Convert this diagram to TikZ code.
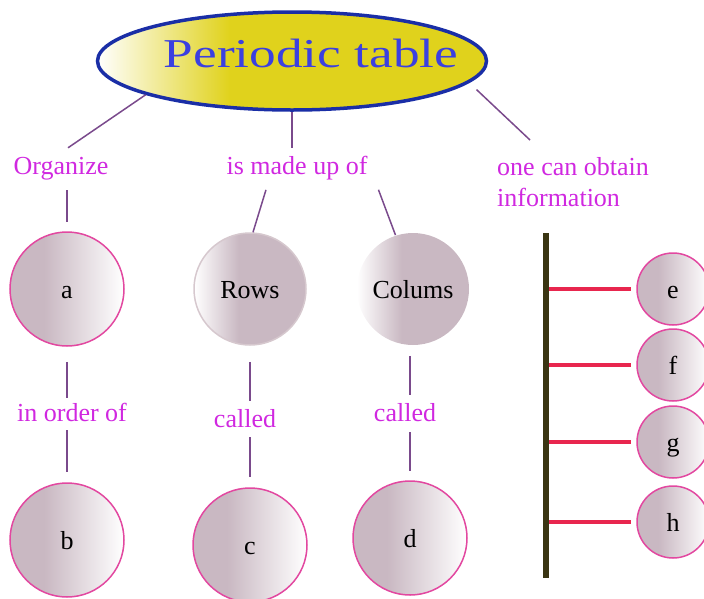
\documentclass[tikz,border=0pt]{standalone}
\usepackage{fontspec}
\setmainfont{Liberation Serif}
\newfontfamily\titlefont[FakeStretch=1.3]{Liberation Serif}
\usetikzlibrary{shapes.geometric}

\definecolor{titleyellow}{RGB}{224,210,28}
\definecolor{titleedge}{RGB}{26,46,166}
\definecolor{titleink}{RGB}{59,64,224}
\definecolor{mauve}{RGB}{201,184,194}
\definecolor{ballpink}{RGB}{226,72,160}
\definecolor{rowsedge}{RGB}{214,200,206}
\definecolor{linkpurple}{RGB}{122,74,140}
\definecolor{textpink}{RGB}{208,40,224}
\definecolor{tickred}{RGB}{232,38,78}
\definecolor{barolive}{RGB}{58,53,18}

\pgfdeclarehorizontalshading{titlefill}{100bp}{color(0bp)=(white); color(25bp)=(white); color(42bp)=(titleyellow); color(100bp)=(titleyellow)}
\pgfdeclarehorizontalshading{ballfill}{100bp}{color(0bp)=(mauve); color(25bp)=(mauve); color(40bp)=(mauve); color(75bp)=(white); color(100bp)=(white)}
\pgfdeclarehorizontalshading{ballrev}{100bp}{color(0bp)=(white); color(25bp)=(white); color(45bp)=(mauve); color(100bp)=(mauve)}

\begin{document}
\begin{tikzpicture}[x=1pt, y=-1pt,
    titlebox/.style={ellipse, draw=titleedge, line width=3.5pt, shading=titlefill,
        minimum width=389pt, minimum height=98pt, inner sep=0pt},
    linktext/.style={text=textpink, font=\fontsize{26}{31}\selectfont,
        text height=18pt, text depth=6pt, inner sep=3pt},
    ball/.style={circle, draw=ballpink, line width=1.5pt, shading=ballfill,
        minimum size=#1, inner sep=0pt, text height=18pt, text depth=0pt,
        font=\fontsize{26}{31}\selectfont},
    link/.style={draw=linkpurple, line width=1.5pt},
    tick/.style={draw=tickred, line width=3.5pt, shorten >=5pt}]
    \useasboundingbox (0,0) rectangle (704,598);

    % Title
    \node[titlebox] (title) at (292,61) {};
    \node[anchor=base, text=titleink, font=\titlefont\fontsize{41}{45}\selectfont]
        (titletext) at (311,67) {Periodic table};

    % Branch labels
    \node[linktext] (org) at (61,168) {Organize};
    \node[linktext] (made) at (297,168) {is made up of};
    \node[linktext, anchor=north west, align=left, text height=, text depth=]
        (info) at (494,154) {one can obtain\\information};

    % First row of circles
    \node[ball=114pt] (a) at (67,289) {a};
    \node[ball=112pt, draw=rowsedge, shading=ballrev] (rows) at (250,289) {Rows};
    \node[ball=112pt, draw=none, shading=ballrev] (cols) at (413,289) {Colums};

    % Lower labels
    \node[linktext] (ord) at (72,415) {in order of};
    \node[linktext] (calrows) at (245,421) {called};
    \node[linktext] (calcols) at (405,415) {called};

    % Second row of circles
    \node[ball=114pt] (b) at (67,540) {b};
    \node[ball=114pt] (c) at (250,545) {c};
    \node[ball=114pt] (d) at (410,538) {d};

    % Information list
    \node[ball=72pt] (e) at (673,289) {e};
    \node[ball=72pt] (f) at (673,365) {f};
    \node[ball=72pt] (g) at (673,442) {g};
    \node[ball=72pt] (h) at (673,522) {h};

    % Connectors from the title
    \draw[link] (title.193.7) -- ([xshift=7pt, yshift=5pt]org.north);
    \draw[link, shorten >=5pt] (title.south) -- (title.south |- made.north);
    \draw[link, shorten <=10pt] (title.353.8) -- ([xshift=36pt, yshift=14pt]info.north west);

    % Connectors down the columns
    \draw[link, shorten <=7pt, shorten >=9pt] (a |- org.south) -- (a.north);
    \draw[link, shorten <=7pt] ([xshift=-29pt]made.south) -- (rows.87);
    \draw[link, shorten <=7pt] ([xshift=79pt]made.south) -- (cols.108);

    \draw[link, shorten <=15pt, shorten >=2pt] (a.south) -- (a |- ord.north);
    \draw[link, shorten >=10pt] (a |- ord.south) -- (b.north);
    \draw[link, shorten <=16pt, shorten >=5pt] (rows.south) -- (rows |- calrows.north);
    \draw[link, shorten <=1pt, shorten >=10pt] (c |- calrows.south) -- (c.north);
    \draw[link, shorten <=10pt, shorten >=5pt] (d |- cols.south) -- (d |- calcols.north);
    \draw[link, shorten <=2pt, shorten >=9pt] (d |- calcols.south) -- (d.north);

    % Bar with ticks
    \coordinate (bartop) at (546,233);
    \coordinate (barbot) at (546,578);
    \foreach \n in {e,f,g,h}
        \draw[tick] (bartop |- \n) -- (\n.west);
    \draw[barolive, line width=6pt] (bartop) -- (barbot);
\end{tikzpicture}
\end{document}
